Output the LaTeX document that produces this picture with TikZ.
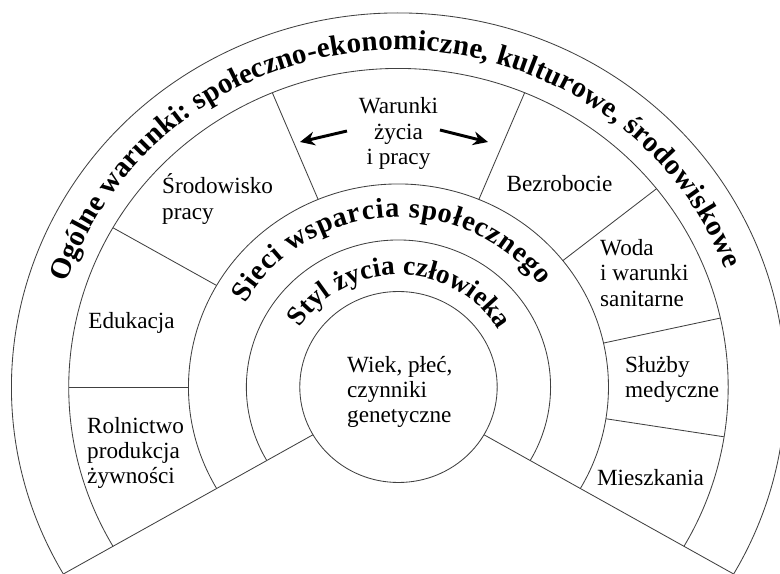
\documentclass[tikz,border=0pt]{standalone}
\usepackage{fontspec}
\setmainfont{Liberation Serif}
\usetikzlibrary{decorations.text,arrows.meta}

\begin{document}
\begin{tikzpicture}[
  ring/.style={draw=black!75, line width=0.8pt},
  lbl/.style={font=\fontsize{22}{24}\selectfont, align=left, inner sep=0pt},
  bigarrow/.style={-{Stealth[length=14pt,width=13pt]}, line width=2.8pt},
]
  \useasboundingbox (-13.283,-6.233) rectangle (12.717,12.9);

  % circle and rings
  \draw[ring] (0,0) ellipse [x radius=3.29, y radius=3.183];
  \draw[ring] (210:5.07 and 4.9) arc[start angle=210, end angle=-30, x radius=5.07, y radius=4.9];
  \draw[ring] (210:7.0 and 6.767) arc[start angle=210, end angle=-30, x radius=7.0, y radius=6.767];
  \draw[ring] (210:10.99 and 10.617) arc[start angle=210, end angle=-30, x radius=10.99, y radius=10.617];
  \draw[ring] (210:12.9 and 12.467) arc[start angle=210, end angle=-30, x radius=12.9, y radius=12.467];

  \draw[ring] (210:3.29 and 3.183) -- (210:12.9 and 12.467);
  \draw[ring] (-30:3.29 and 3.183) -- (-30:12.9 and 12.467);

  % sectors
  \foreach \a in {180,150,112.5,67.5,38.5,12.5,-9}
    \draw[ring] (\a:7.0 and 6.767) -- (\a:10.99 and 10.617);

  % bent titles
  \path[decorate, decoration={text along path, text align=fit to path,
    text={|\bfseries\fontsize{27.5}{30}\selectfont|Ogólne warunki: społeczno-ekonomiczne, kulturowe, środowiskowe}}]
    (162:11.63 and 11.233) arc[start angle=162, end angle=20.5, x radius=11.63, y radius=11.233];
  \path[decorate, decoration={text along path, text align=fit to path,
    text={|\bfseries\fontsize{27}{29}\selectfont|Sieci wsparcia społecznego}}]
    (150.5:5.87 and 5.667) arc[start angle=150.5, end angle=36.5, x radius=5.87, y radius=5.667];
  \path[decorate, decoration={text along path, text align=fit to path,
    text={|\bfseries\fontsize{26}{28}\selectfont|Styl życia człowieka}}]
    (148:3.87 and 3.733) arc[start angle=148, end angle=30.5, x radius=3.87, y radius=3.733];

  % sector labels
  \node[lbl, align=center] (warunki) at (0,8.45) {Warunki\\życia\\i pracy};
  \node[lbl, anchor=west] (srodowisko) at (-7.883,6.267) {Środowisko\\pracy};
  \node[lbl] (edukacja) at (-8.9,2.133) {Edukacja};
  \node[lbl, anchor=west] (rolnictwo) at (-10.383,-2.2) {Rolnictwo\\produkcja\\żywności};
  \node[lbl] (bezrobocie) at (5.367,6.767) {Bezrobocie};
  \node[lbl, anchor=west] (woda) at (6.717,3.8) {Woda\\i warunki\\sanitarne};
  \node[lbl, anchor=west] (sluzby) at (7.55,0.25) {Służby\\medyczne};
  \node[lbl] (mieszkania) at (8.4,-3.033) {Mieszkania};
  \node[lbl, anchor=west] (wiek) at (-1.717,-0.17) {Wiek, płeć,\\czynniki\\genetyczne};

  \coordinate (arrL1) at (-1.717,8.533);
  \coordinate (arrL2) at (-3.283,8.167);
  \coordinate (arrR1) at (1.383,8.567);
  \coordinate (arrR2) at (2.983,8.167);
  \draw[bigarrow] (arrL1) -- (arrL2);
  \draw[bigarrow] (arrR1) -- (arrR2);
\end{tikzpicture}
\end{document}
